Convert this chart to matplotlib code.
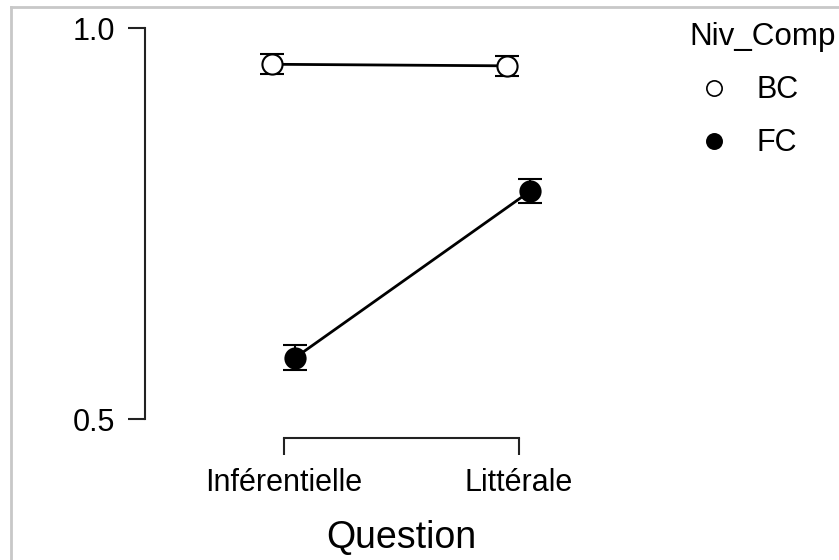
import matplotlib.pyplot as plt
from matplotlib.lines import Line2D

plt.rcParams['font.family'] = ['Liberation Sans', 'DejaVu Sans']

questions = ['Inférentielle', 'Littérale']
groups = ['BC', 'FC']
means = {'BC': [0.954, 0.952], 'FC': [0.579, 0.792]}
errors = {'BC': [0.013, 0.013], 'FC': [0.016, 0.015]}
offsets = {'BC': -0.05, 'FC': 0.05}
faces = {'BC': 'white', 'FC': 'black'}

fig = plt.figure(figsize=(8.39, 5.6), dpi=100)
ax = fig.add_axes([145 / 839, 1 - 438.3 / 560, 512.3 / 839, 410 / 560])

for g in groups:
    xs = [i + offsets[g] for i in range(len(questions))]
    ax.plot(xs, means[g], color='black', lw=2, zorder=1)
    ax.errorbar(xs, means[g], yerr=errors[g], fmt='none', ecolor='black',
                elinewidth=1.5, capsize=8.3, capthick=1.5, zorder=2)
    ax.plot(xs, means[g], 'o', ms=14.5, mfc=faces[g], mec='black', mew=1.5,
            zorder=3, label=g, clip_on=False)

ax.set_xlim(-0.59, 1.59)
ax.set_ylim(0.4757, 1.0)
ax.set_xticks(range(len(questions)))
ax.set_xticklabels(questions)
ax.set_yticks([0.5, 1.0])
ax.set_yticklabels(['0.5', '1.0'])
for s in ['top', 'right']:
    ax.spines[s].set_visible(False)
ax.spines['left'].set_bounds(0.5, 1.0)
ax.spines['bottom'].set_bounds(0, 1)
for s in ['left', 'bottom']:
    ax.spines[s].set_linewidth(1.5)
    ax.spines[s].set_color('#222222')
ax.tick_params(length=12, width=1.5, color='#222222', labelsize=22, pad=9.5)
ax.set_xlabel('Question', fontsize=27, labelpad=16)

handles = [Line2D([], [], ls='none', marker='o', ms=11, mfc=faces[g],
                  mec='black', mew=1.2) for g in groups]
leg = fig.legend(handles, groups, title='Niv_Comp', loc='upper left',
                 bbox_to_anchor=(689 / 839, 1 - 22 / 560), frameon=False,
                 fontsize=22, title_fontsize=22.6, handlelength=1.65,
                 handletextpad=0.55, labelspacing=0.76,
                 borderpad=0, borderaxespad=0)
leg._legend_box.align = 'left'

fig.add_artist(Line2D([11 / 839, 11 / 839], [0, 1 - 7 / 560], color='#c8c8c8', lw=2))
fig.add_artist(Line2D([11 / 839, 1], [1 - 7 / 560, 1 - 7 / 560], color='#c8c8c8', lw=2))

fig.savefig('out.png', dpi=100)
